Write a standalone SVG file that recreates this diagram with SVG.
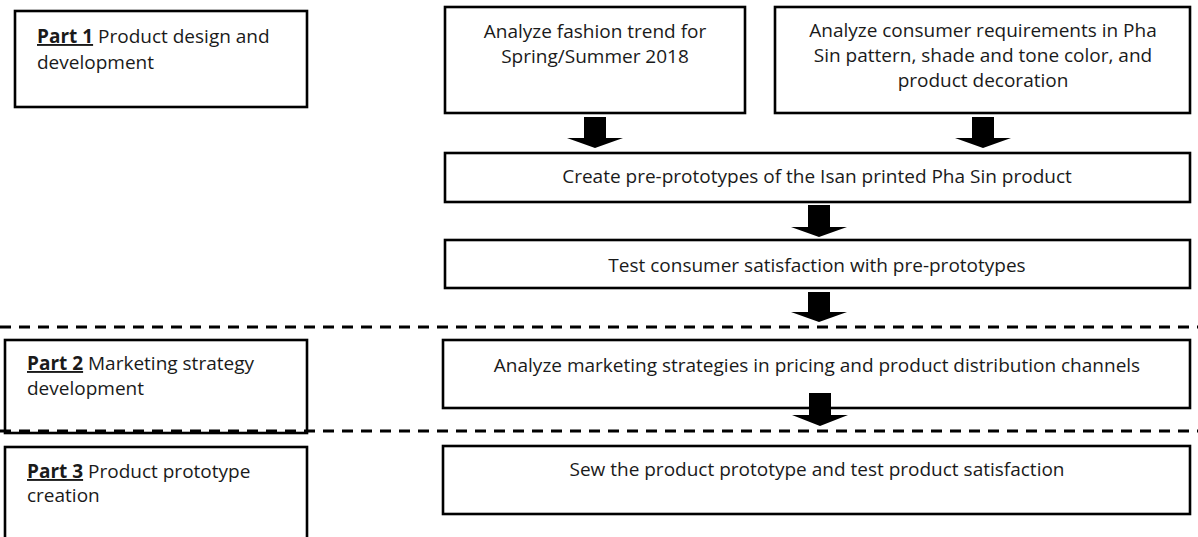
<svg xmlns="http://www.w3.org/2000/svg" width="1198" height="537" viewBox="0 0 1198 537">
<style>
.box{fill:#fff;stroke:#000;stroke-width:2.6}
.t{font-family:"Open Sans","Noto Sans","Liberation Sans",sans-serif;font-size:19px;fill:#1a1a1a}
.c{text-anchor:middle}
.b{font-weight:bold;text-decoration:underline}
.dash{stroke:#000;stroke-width:3;stroke-dasharray:11 8;fill:none}
.arr{fill:#000}
</style>
<rect width="1198" height="537" fill="#fff"/>
<g id="part1">
<rect class="box" x="15" y="11" width="292" height="96"/>
<text class="t" x="37" y="43"><tspan class="b">Part 1</tspan> Product design and</text>
<text class="t" x="37" y="69">development</text>
</g>
<g id="nodeA">
<rect class="box" x="445" y="7" width="300" height="106"/>
<text class="t c" x="595" y="38">Analyze fashion trend for</text>
<text class="t c" x="595" y="63">Spring/Summer 2018</text>
</g>
<g id="nodeB">
<rect class="box" x="775" y="7" width="415" height="106"/>
<text class="t c" x="983" y="37">Analyze consumer requirements in Pha</text>
<text class="t c" x="983" y="62">Sin pattern, shade and tone color, and</text>
<text class="t c" x="983" y="87">product decoration</text>
</g>
<g id="nodeC">
<rect class="box" x="445" y="153" width="745" height="49"/>
<text class="t c" x="817" y="183">Create pre-prototypes of the Isan printed Pha Sin product</text>
</g>
<g id="nodeD">
<rect class="box" x="445" y="240" width="745" height="48"/>
<text class="t c" x="817" y="272">Test consumer satisfaction with pre-prototypes</text>
</g>
<g id="dividers">
<line class="dash" x1="0" y1="327" x2="1198" y2="327"/>
</g>
<g id="part2">
<rect class="box" x="5" y="340" width="302" height="93"/>
<text class="t" x="27" y="370"><tspan class="b">Part 2</tspan> Marketing strategy</text>
<text class="t" x="27" y="395">development</text>
</g>
<g id="nodeE">
<rect class="box" x="443" y="340" width="747" height="68"/>
<text class="t c" x="817" y="372">Analyze marketing strategies in pricing and product distribution channels</text>
</g>
<g id="divider2">
<line class="dash" x1="0" y1="431" x2="1198" y2="431"/>
</g>
<g id="part3">
<rect class="box" x="5" y="447" width="302" height="100"/>
<text class="t" x="27" y="478"><tspan class="b">Part 3</tspan> Product prototype</text>
<text class="t" x="27" y="502">creation</text>
</g>
<g id="nodeF">
<rect class="box" x="443" y="446" width="747" height="68"/>
<text class="t c" x="817" y="476">Sew the product prototype and test product satisfaction</text>
</g>
<g id="connectors">
<path class="arr" d="M584,117 V138 H567 L595,148 L623,138 H606 V117 Z"/>
<path class="arr" d="M972,117 V138 H955 L983,148 L1011,138 H994 V117 Z"/>
<path class="arr" d="M808,205 V227 H791 L819,237 L847,227 H830 V205 Z"/>
<path class="arr" d="M808,292 V312 H791 L819,322 L847,312 H830 V292 Z"/>
<path class="arr" d="M809,393 V415 H792 L820,426 L848,415 H831 V393 Z"/>
</g>
</svg>
